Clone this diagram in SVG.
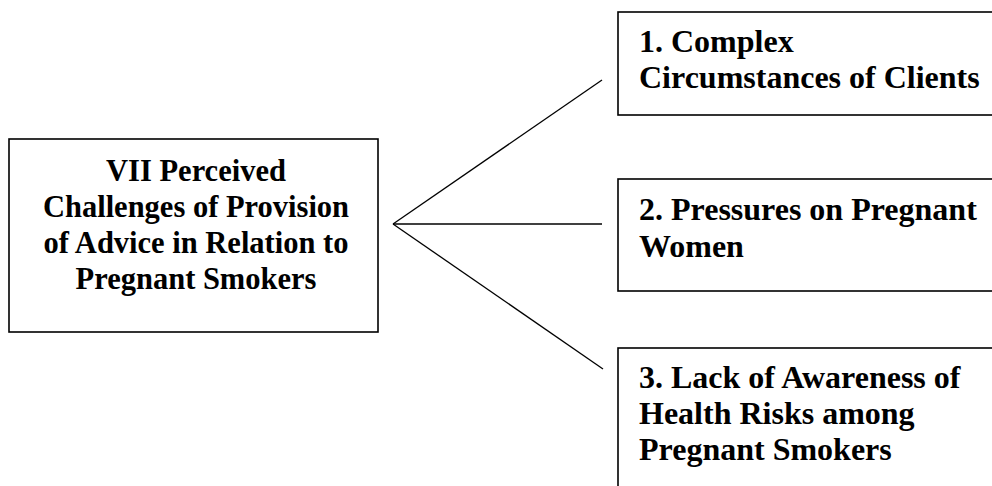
<svg xmlns="http://www.w3.org/2000/svg" width="992" height="486" viewBox="0 0 992 486">
<style>
.box{fill:#fff;stroke:#000;stroke-width:1.6}
.t{font-family:"Liberation Serif","Times New Roman",serif;font-weight:bold;fill:#000}
.tl{font-size:30.5px;text-anchor:middle}
.tr{font-size:32px}
.c{stroke:#000;stroke-width:1.3;fill:none}
</style>
<rect width="992" height="486" fill="#fff"/>
<g id="connectors">
<line class="c" x1="393" y1="224" x2="602" y2="80"/>
<line class="c" x1="393" y1="224" x2="602" y2="224"/>
<line class="c" x1="393" y1="224" x2="603" y2="369"/>
</g>
<g id="main">
<rect class="box" x="9" y="139" width="369" height="193"/>
<text class="t tl" x="196" y="181">VII Perceived</text>
<text class="t tl" x="196" y="217">Challenges of Provision</text>
<text class="t tl" x="196" y="253">of Advice in Relation to</text>
<text class="t tl" x="196" y="289">Pregnant Smokers</text>
</g>
<g id="n1">
<rect class="box" x="618" y="12" width="380" height="103"/>
<text class="t tr" x="639" y="52">1. Complex</text>
<text class="t tr" x="639" y="88">Circumstances of Clients</text>
</g>
<g id="n2">
<rect class="box" x="618" y="179" width="380" height="112"/>
<text class="t tr" x="639" y="220">2. Pressures on Pregnant</text>
<text class="t tr" x="639" y="257">Women</text>
</g>
<g id="n3">
<rect class="box" x="618" y="348" width="380" height="150"/>
<text class="t tr" x="639" y="388">3. Lack of Awareness of</text>
<text class="t tr" x="639" y="424">Health Risks among</text>
<text class="t tr" x="639" y="460">Pregnant Smokers</text>
</g>
</svg>
